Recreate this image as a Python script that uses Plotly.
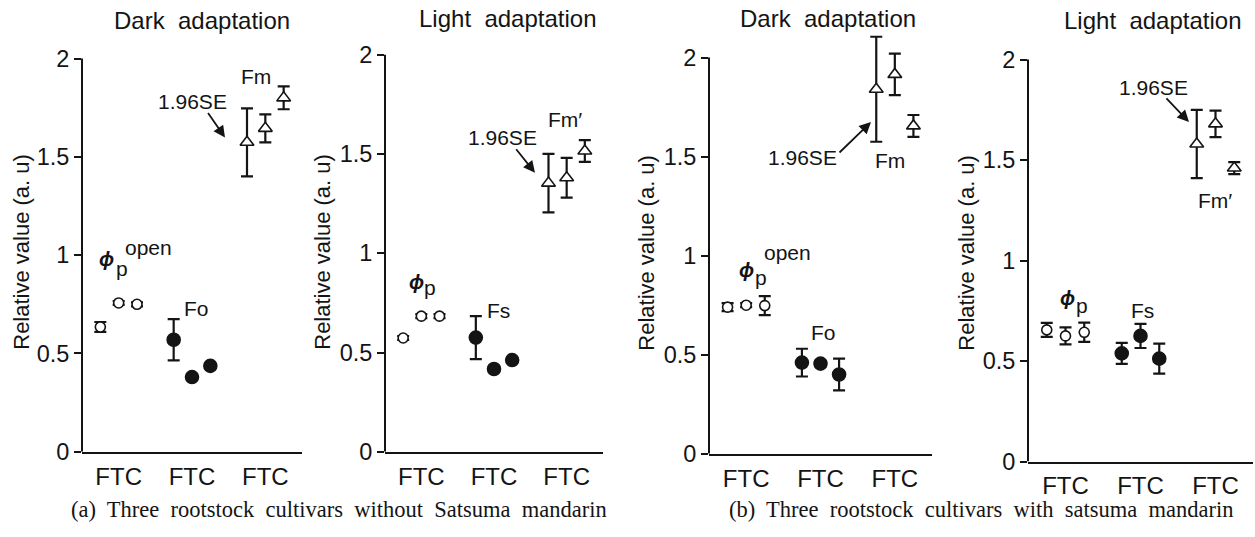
import plotly.graph_objects as go

W, H = 1255, 537

# ---------------- data ----------------
cultivars = ["F", "T", "C"]
tick_text = ["FTC", "FTC", "FTC"]
y_ticks = [0, 0.5, 1, 1.5, 2]
y_ticktext = ["0", "0.5", "1", "1.5", "2"]
cat_dark = ["phi_open", "Fo", "Fm"]
cat_light = ["phi", "Fs", "Fm_prime"]

# (a) without Satsuma mandarin - dark adaptation  [phi_p open, Fo, Fm]
a_dark_F = [0.635, 0.570, 1.574]
a_dark_T = [0.757, 0.380, 1.645]
a_dark_C = [0.750, 0.437, 1.800]
a_dark_F_se = [0.025, 0.105, 0.173]
a_dark_T_se = [0.010, 0.010, 0.071]
a_dark_C_se = [0.010, 0.010, 0.058]

# (a) without Satsuma mandarin - light adaptation  [phi_p, Fs, Fm']
a_light_F = [0.573, 0.575, 1.353]
a_light_T = [0.683, 0.417, 1.380]
a_light_C = [0.683, 0.462, 1.515]
a_light_F_se = [0.010, 0.108, 0.147]
a_light_T_se = [0.010, 0.010, 0.100]
a_light_C_se = [0.010, 0.010, 0.055]

# (b) with satsuma mandarin - dark adaptation
b_dark_F = [0.740, 0.460, 1.840]
b_dark_T = [0.750, 0.455, 1.915]
b_dark_C = [0.748, 0.400, 1.655]
b_dark_F_se = [0.020, 0.070, 0.265]
b_dark_T_se = [0.010, 0.015, 0.105]
b_dark_C_se = [0.048, 0.080, 0.055]

# (b) with satsuma mandarin - light adaptation
b_light_F = [0.655, 0.538, 1.580]
b_light_T = [0.625, 0.625, 1.680]
b_light_C = [0.643, 0.512, 1.460]
b_light_F_se = [0.035, 0.052, 0.170]
b_light_T_se = [0.042, 0.060, 0.066]
b_light_C_se = [0.048, 0.075, 0.030]

# ---------------- styling / layout ----------------
INK = "#141414"
SANS = "Liberation Sans, Arial, sans-serif"
SERIF = "Liberation Serif, Times New Roman, serif"
symbols = ["circle", "circle", "triangle-up"]
fills = ["white", INK, "white"]
sizes = [10, 13, 12]
Y_MAX = 2.15

# pixel geometry of each panel: left, right, y(0) px, y(2) px
geom = [(82, 302, 463, 60), (385, 603, 463, 56), (709, 932, 465, 59), (1028, 1253, 473, 61)]

panels = [
    (cat_dark, [a_dark_F, a_dark_T, a_dark_C], [a_dark_F_se, a_dark_T_se, a_dark_C_se]),
    (cat_light, [a_light_F, a_light_T, a_light_C], [a_light_F_se, a_light_T_se, a_light_C_se]),
    (cat_dark, [b_dark_F, b_dark_T, b_dark_C], [b_dark_F_se, b_dark_T_se, b_dark_C_se]),
    (cat_light, [b_light_F, b_light_T, b_light_C], [b_light_F_se, b_light_T_se, b_light_C_se]),
]

fig = go.Figure()
layout = dict(
    width=W, height=H, margin=dict(l=0, r=0, t=0, b=0),
    paper_bgcolor="white", plot_bgcolor="white", showlegend=False,
    scattermode="group", scattergap=0.25,
    font=dict(family=SANS, color=INK),
)
shapes = []
for i, ((cats, means, ses), (lft, rgt, y0, y2)) in enumerate(zip(panels, geom), start=1):
    xa = "x" if i == 1 else f"x{i}"
    ya = "y" if i == 1 else f"y{i}"
    for cv, m, se in zip(cultivars, means, ses):
        fig.add_trace(go.Scatter(
            x=cats, y=m, name=cv, mode="markers", offsetgroup=cv,
            xaxis=xa, yaxis=ya,
            marker=dict(symbol=symbols, color=fills, size=sizes, opacity=1,
                        line=dict(color=INK, width=1.6)),
            error_y=dict(type="data", array=se, color=INK, thickness=2.2, width=6),
            cliponaxis=False,
        ))
    unit = (y0 - y2) / 2.0
    top = y0 - Y_MAX * unit
    layout["xaxis" if i == 1 else f"xaxis{i}"] = dict(
        domain=[lft / W, rgt / W], anchor=ya, type="category",
        categoryorder="array", categoryarray=cats,
        range=[-0.5, 2.5], tickvals=cats, ticktext=tick_text,
        showline=True, linewidth=2, linecolor=INK, ticks="",
        ticklabelstandoff=2,
        showgrid=False, zeroline=False, tickfont=dict(size=24, color=INK),
    )
    layout["yaxis" if i == 1 else f"yaxis{i}"] = dict(
        domain=[1 - y0 / H, 1 - top / H], anchor=xa, range=[0, Y_MAX],
        tickvals=y_ticks, ticktext=y_ticktext, ticks="outside", ticklen=7,
        tickwidth=2, tickcolor=INK, showline=False, showgrid=False,
        zeroline=False, tickfont=dict(size=23.5, color=INK),
    )
    shapes.append(dict(type="line", xref=f"{xa} domain", yref=ya, x0=0, x1=0,
                       y0=0, y1=2, line=dict(color=INK, width=2)))

layout["shapes"] = shapes


def txt(px, py, text, size=21, family=SANS, angle=0, anchor="center"):
    return dict(x=px / W, y=1 - py / H, xref="paper", yref="paper", text=text,
                showarrow=False, xanchor=anchor, yanchor="middle", textangle=angle,
                font=dict(size=size, family=family, color=INK))


def arrow(tx, ty, hx, hy):
    return dict(x=hx / W, y=1 - hy / H, xref="paper", yref="paper", text="",
                showarrow=True, ax=tx - hx, ay=ty - hy, arrowhead=2, arrowsize=1.3,
                arrowwidth=1.8, arrowcolor=INK, standoff=0, startstandoff=0)


PHI = "<b><i>ϕ</i></b>"
anns = [
    # panel titles
    txt(202, 21, "Dark\u00a0 adaptation", 24),
    txt(507, 19, "Light\u00a0 adaptation", 24),
    txt(828, 19, "Dark\u00a0 adaptation", 24),
    txt(1152, 21, "Light\u00a0 adaptation", 24),
    # y axis titles
    txt(22, 258, "Relative value (a. u)", 22, angle=-90),
    txt(323, 258, "Relative value (a. u)", 22, angle=-90),
    txt(647, 259, "Relative value (a. u)", 22, angle=-90),
    txt(967, 259, "Relative value (a. u)", 22, angle=-90),
    # panel 1 labels
    txt(256, 78, "Fm"), txt(192, 104, "1.96SE"), arrow(207, 115, 225, 141),
    txt(106, 265, PHI, 20), txt(122, 275, "p"), txt(148, 254, "open"),
    txt(196, 316, "Fo"),
    # panel 2 labels
    txt(565, 122, "Fm\u2032"), txt(502, 141, "1.96SE"), arrow(515, 152, 535, 177),
    txt(416, 289, PHI, 20), txt(430, 295, "p"),
    txt(498, 318, "Fs"),
    # panel 3 labels
    txt(802, 161, "1.96SE"), arrow(838, 157, 871, 125),
    txt(890, 164, "Fm"),
    txt(746, 277, PHI, 20), txt(761, 284, "p"), txt(788, 259, "open"),
    txt(824, 341, "Fo"),
    # panel 4 labels
    txt(1153, 90, "1.96SE"), arrow(1165, 100, 1189, 125),
    txt(1215, 205, "Fm\u2032"),
    txt(1067, 305, PHI, 20), txt(1082, 313, "p"),
    txt(1142, 318, "Fs"),
    # captions
    txt(339, 522, "(a)\u00a0 Three\u00a0 rootstock\u00a0 cultivars\u00a0 without\u00a0 Satsuma\u00a0 mandarin",
        22.5, family=SERIF),
    txt(981, 522, "(b)\u00a0 Three\u00a0 rootstock\u00a0 cultivars\u00a0 with\u00a0 satsuma\u00a0 mandarin",
        22.5, family=SERIF),
]
layout["annotations"] = anns
fig.update_layout(**layout)

page_fix = (
    "document.documentElement.style.margin='0';"
    "document.documentElement.style.overflow='hidden';"
    "document.body.style.margin='0';"
    "document.body.style.overflow='hidden';"
    "var d=document.getElementById('{plot_id}');"
    "d.style.position='fixed';d.style.left='0';d.style.top='0';"
)
fig.write_html("out.html", config={"displayModeBar": False}, post_script=page_fix)
